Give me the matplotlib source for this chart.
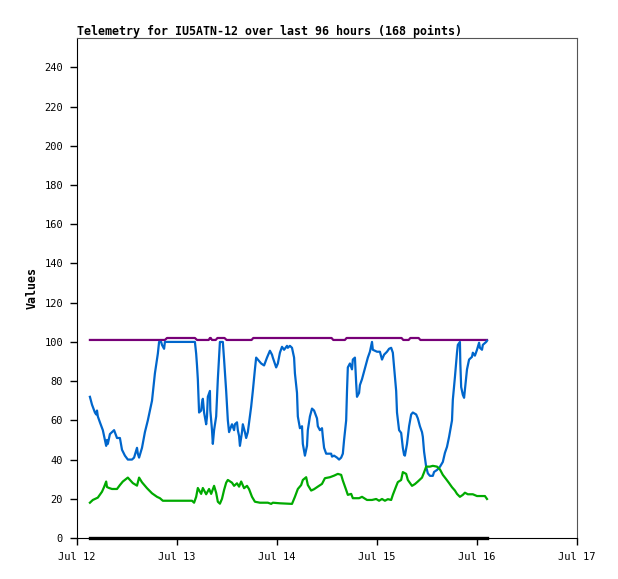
import datetime as dt
import matplotlib
matplotlib.use("Agg")
import matplotlib.pyplot as plt
import matplotlib.dates as mdates

# hours after Jul 12 00:00
blue_h = [3.1, 3.6, 4.3, 4.6, 4.8, 5.0, 5.5, 6.2, 7.0, 7.2, 7.4, 7.9, 8.9, 9.6, 10.3, 10.8,
          11.5, 12.2, 13.2, 13.7, 14.4, 14.6, 14.9, 15.6, 16.3, 17.0, 18.0, 18.7, 19.4, 19.7,
          20.2, 20.4, 20.9, 21.1, 21.6, 28.3, 28.6, 28.8, 29.0, 29.2, 29.3, 29.8, 30.0, 30.2,
          30.5, 31.0, 31.2, 31.4, 31.9, 32.0, 32.4, 32.6, 32.9, 33.4, 33.8, 34.3, 35.0, 35.3,
          35.8, 36.2, 36.5, 37.0, 37.2, 37.7, 37.9, 38.4, 38.6, 38.9, 39.1, 39.6, 39.8, 40.3,
          40.6, 41.0, 41.3, 41.8, 42.2, 42.7, 43.0, 43.4, 44.2, 44.9, 45.6, 46.3, 46.8, 47.0,
          47.8, 48.2, 48.7, 49.2, 49.7, 50.4, 50.6, 51.1, 51.6, 52.1, 52.3, 52.8, 53.0, 53.5,
          54.0, 54.2, 54.7, 55.2, 55.4, 55.9, 56.4, 56.9, 57.6, 57.8, 58.3, 58.8, 59.0, 59.3,
          59.8, 60.2, 61.0, 61.2, 61.7, 62.4, 62.9, 63.4, 63.8, 64.1, 64.6, 64.8, 65.0, 65.5,
          66.0, 66.2, 66.7, 67.0, 67.2, 67.7, 67.9, 68.4, 68.9, 69.4, 69.8, 70.3, 70.8, 71.0,
          72.0, 72.7, 73.2, 73.7, 74.4, 74.9, 75.4, 75.8, 76.1, 76.6, 76.8, 77.3, 77.8, 78.2,
          78.5, 78.7, 79.2, 79.7, 80.2, 80.6, 81.4, 81.8, 82.3, 82.8, 83.0, 83.3, 83.8, 84.2,
          84.7, 85.4, 85.7, 86.4, 87.1, 87.8, 88.3, 88.8, 89.3, 90.0, 90.2, 90.7, 91.2, 91.4,
          91.9, 92.0, 92.2, 92.6, 92.9, 93.1, 93.6, 94.1, 94.8, 95.0, 95.5, 96.0, 96.5, 96.7,
          97.2, 97.4, 98.2, 98.4]
blue_v = [72, 68, 64, 63, 65, 62, 59, 55, 47, 50, 48, 53, 55, 51, 51, 45,
          42, 40, 40, 41, 46, 43, 41, 46, 54, 60, 70, 84, 94, 100,
          100, 98.5, 96.5, 100, 100, 100, 94, 88, 81, 70, 64, 65, 69, 71,
          64, 58, 62, 72, 75, 65, 55, 48, 55, 62, 81, 100, 100, 91,
          75, 60, 54, 57, 58, 55, 58, 59, 55, 52, 47, 54, 58, 54,
          51, 54, 59, 67, 75, 86, 92, 91, 89, 88, 92, 95.5, 93.5, 92,
          87, 89, 94.5, 97.5, 96, 98, 97, 98, 97, 92, 84, 74, 62, 56,
          57, 48, 42, 47, 55, 62, 66, 65, 61, 57, 55, 56, 51.6, 46,
          43, 43, 43, 41.5, 42, 41, 40, 41, 43, 50, 60, 75, 87, 89,
          86, 91, 92, 79, 72, 74, 78, 81, 85, 89, 92, 95, 100, 96,
          95, 95, 91, 93.5, 95, 96.5, 97, 94.5, 87, 75, 64, 55, 53.6, 46,
          42.4, 42, 48, 57, 63, 64, 63, 61, 57, 54, 51.6, 44, 36.3, 33,
          31.7, 31.7, 33.7, 34.7, 36.3, 38.8, 43.4, 46.5, 51.6, 60, 70.5, 82, 94.5, 98.5,
          100, 89, 77, 73, 71.5, 75.5, 86, 91, 92.4, 94.5, 93, 96, 99.6, 97,
          96, 98.5, 100, 100.6]

green_h = [3.1, 3.8, 5.0, 6.0, 6.5, 7.0, 7.2, 7.7, 8.4, 9.6, 10.3, 11.0, 12.2, 13.4, 14.4,
           14.9, 15.6, 16.8, 18.0, 19.2, 19.9, 20.6, 27.6, 28.1, 28.6, 29.0, 29.8, 30.2, 31.0,
           31.7, 32.2, 32.9, 33.4, 33.8, 34.3, 34.8, 35.3, 35.8, 36.2, 37.2, 37.7, 38.4, 38.9,
           39.4, 40.1, 40.8, 41.3, 42.0, 42.7, 43.9, 45.8, 46.6, 47.0, 48.7, 51.6, 52.3, 53.0,
           53.8, 54.2, 55.0, 55.4, 56.2, 56.9, 57.8, 58.8, 59.5, 60.7, 61.7, 62.6, 63.4, 63.8,
           64.6, 65.0, 65.8, 66.2, 67.7, 68.4, 69.6, 70.8, 71.8, 72.5, 73.2, 73.9, 74.6, 75.4,
           75.8, 76.6, 77.0, 77.8, 78.2, 79.0, 79.4, 80.4, 81.1, 81.8, 82.8, 83.3, 83.8, 84.7,
           85.4, 86.4, 87.1, 87.8, 88.6, 89.3, 90.0, 90.7, 91.2, 91.9, 92.6, 93.1, 93.8, 95.0,
           96.0, 97.9, 98.4]
green_v = [18, 19.4, 20.6, 23.6, 26, 28.8, 26, 25.5, 25, 25, 27, 28.8, 30.8, 28, 26.7,
           30.8, 28.4, 25.4, 22.8, 21, 20.3, 19, 19, 18, 21, 25.5, 22.5, 25.5, 22.3,
           25, 22.5, 26.6, 23, 18.5, 17.5, 20, 24.5, 28.2, 29.6, 28.2, 26.6, 27.9, 26.2,
           28.8, 25.4, 26.6, 24.9, 21, 18.5, 18, 18, 17.4, 18, 17.7, 17.4, 21, 25,
           27, 29.6, 31, 27, 24.2, 24.9, 26.2, 27.6, 30.5, 31, 31.8, 32.7, 32.2, 29.3,
           24.5, 22, 22.5, 20.3, 20.3, 21, 19.4, 19.4, 19.9, 19, 19.9, 19, 19.8, 19.4,
           22, 26.4, 28.5, 29.6, 33.6, 32.7, 29.6, 26.6, 27.5, 28.8, 30.8, 33.5, 36.4, 36.4,
           36.8, 36.4, 35, 32.2, 30, 28, 25.9, 24.2, 22.5, 21, 22, 23.1, 22.3, 22.3,
           21.4, 21.4, 19.9]

purple_h = [3.1, 21.1, 21.6, 28.3, 28.8, 31.6, 31.9, 32.1, 32.4, 33.3, 33.7, 35.4, 35.9,
            41.9, 42.3, 61.1, 61.5, 64.3, 64.7, 77.9, 78.3, 79.6, 80.0, 82.0, 82.4, 98.4]
purple_v = [101, 101, 102, 102, 101, 101, 102, 102, 101, 101, 102, 102, 101,
            101, 102, 102, 101, 101, 102, 102, 101, 101, 102, 102, 101, 101]

black_h = [3.1, 98.4]
black_v = [0, 0]

day0 = dt.datetime(2024, 7, 12)
def to_dt(hours):
    return [day0 + dt.timedelta(hours=h) for h in hours]

mono = "DejaVu Sans Mono"
fig = plt.figure(figsize=(6.18, 5.79), dpi=100)
ax = fig.add_axes([77 / 618, 1 - 538 / 579, 500 / 618, 500 / 579])

ax.plot(to_dt(purple_h), purple_v, color="#770077", lw=1.6)
ax.plot(to_dt(blue_h), blue_v, color="#0066cc", lw=1.6)
ax.plot(to_dt(green_h), green_v, color="#00aa00", lw=1.6)
ax.plot(to_dt(black_h), black_v, color="black", lw=2.4, clip_on=False, zorder=5)

ax.set_xlim(day0, day0 + dt.timedelta(days=5))
ax.set_ylim(0, 255)
ax.set_yticks(range(0, 241, 20))
ax.xaxis.set_major_locator(mdates.DayLocator())
ax.xaxis.set_major_formatter(mdates.DateFormatter("%b %d"))

for lab in ax.get_xticklabels() + ax.get_yticklabels():
    lab.set_fontfamily(mono)
    lab.set_fontsize(7.5)
ax.tick_params(direction="out", length=5, width=1, pad=5)
ax.spines["left"].set_color("black")
ax.spines["bottom"].set_color("black")
ax.spines["top"].set_color("#555555")
ax.spines["right"].set_color("#555555")

ax.set_title("Telemetry for IU5ATN-12 over last 96 hours (168 points)", loc="left",
             fontfamily=mono, fontweight="bold", fontsize=8.4, pad=2)
ax.set_ylabel("Values", fontfamily=mono, fontweight="bold", fontsize=8.4, labelpad=4)

fig.savefig("out.png", dpi=100)
